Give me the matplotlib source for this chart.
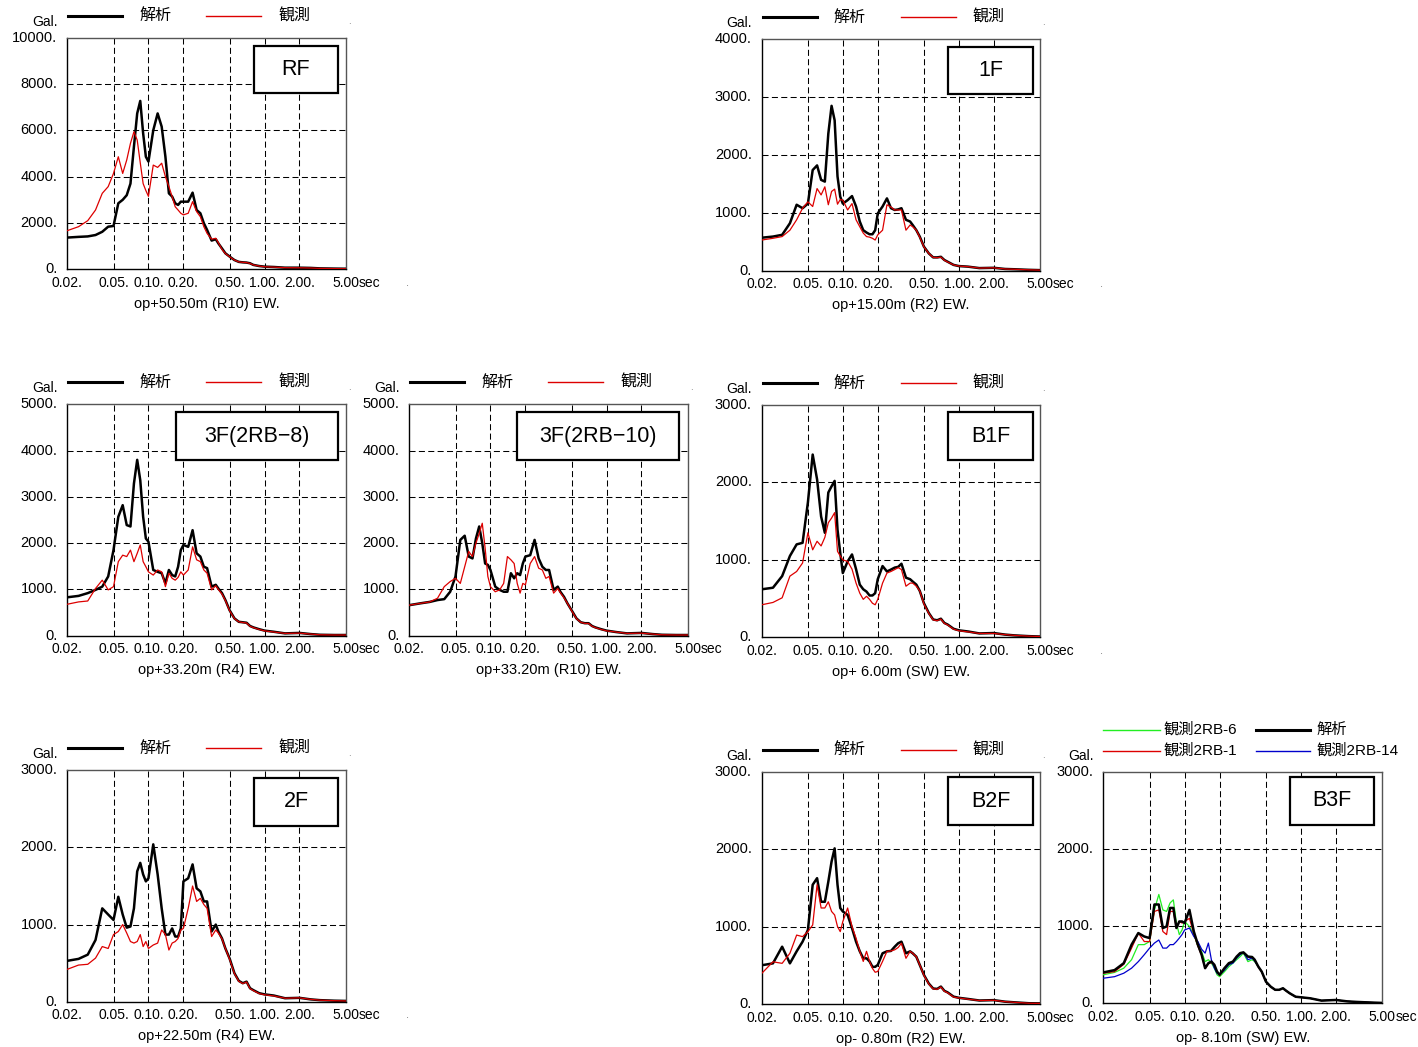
import matplotlib.pyplot as plt
import matplotlib.transforms as mtransforms
from matplotlib.patches import Rectangle
from matplotlib.lines import Line2D

plt.rcParams['font.family'] = ['Liberation Sans', 'Noto Sans CJK JP']

# 周期 (sec)
period = [0.02, 0.025, 0.03, 0.035, 0.04, 0.045, 0.05, 0.055, 0.06, 0.065, 0.07, 0.075,
          0.08, 0.085, 0.09, 0.095, 0.10, 0.11, 0.12, 0.13, 0.14, 0.15, 0.16, 0.17, 0.18,
          0.19, 0.20, 0.22, 0.24, 0.26, 0.28, 0.30, 0.32, 0.35, 0.38, 0.40, 0.43, 0.46,
          0.50, 0.55, 0.60, 0.65, 0.70, 0.75, 0.80, 0.90, 1.0, 1.2, 1.5, 2.0, 2.5, 3.0,
          4.0, 5.0]

# 加速度応答スペクトル (Gal)  calc=解析, obs=観測
rf_calc = [1370, 1400, 1420, 1480, 1620, 1840, 1870, 2850, 3000, 3200, 3700, 5300, 6730, 7270,
           5870, 4860, 4650, 6000, 6730, 6160, 4860, 3280, 3140, 2850, 2780, 2920, 2920, 2920,
           3310, 2560, 2420, 1990, 1700, 1240, 1300, 1120, 900, 690, 550, 400, 320, 300, 290,
           260, 190, 140, 115, 100, 70, 70, 60, 40, 30, 25]
rf_obs = [1670, 1840, 2100, 2560, 3280, 3570, 4140, 4860, 4140, 4720, 5440, 5940, 5580, 4600,
          3700, 3400, 3150, 4500, 4400, 4580, 4000, 3570, 3140, 2700, 2560, 2420, 2350, 2420,
          2920, 2490, 2270, 1840, 1550, 1300, 1340, 1150, 860, 680, 540, 400, 320, 300, 290,
          250, 190, 140, 110, 95, 70, 65, 55, 40, 30, 25]

f1_calc = [570, 590, 620, 820, 1140, 1080, 1160, 1740, 1820, 1570, 1540, 2370, 2850, 2600,
           1630, 1280, 1160, 1220, 1290, 1110, 850, 700, 660, 630, 630, 700, 990, 1110, 1250,
           1080, 1050, 1060, 1080, 880, 850, 790, 700, 590, 415, 300, 230, 230, 240, 185, 155,
           100, 80, 70, 45, 50, 30, 25, 15, 10]
f1_obs = [530, 560, 590, 700, 880, 1080, 1190, 1110, 1420, 1310, 1450, 1140, 1370, 1410, 1150,
          1230, 1220, 1050, 1160, 880, 760, 650, 590, 580, 560, 530, 620, 700, 1140, 1100, 1050,
          1050, 1050, 700, 790, 760, 700, 580, 410, 300, 230, 225, 235, 180, 150, 100, 80, 70,
          45, 50, 30, 25, 15, 10]

f3a_calc = [830, 860, 920, 990, 1060, 1280, 1850, 2570, 2820, 2390, 2360, 3290, 3800, 3360,
            2570, 2100, 2030, 1420, 1380, 1350, 1130, 1420, 1310, 1280, 1490, 1850, 1960, 1920,
            2280, 1780, 1710, 1490, 1460, 1060, 1100, 1020, 920, 770, 550, 375, 300, 290, 280,
            210, 180, 140, 110, 85, 50, 60, 35, 20, 15, 15]
f3a_obs = [680, 730, 750, 1020, 1200, 990, 1060, 1600, 1740, 1710, 1850, 1600, 1780, 1960, 1600,
           1490, 1380, 1310, 1420, 1380, 1060, 1350, 1240, 1200, 1260, 1380, 1310, 1420, 1920,
           1640, 1600, 1420, 1350, 990, 1080, 1000, 900, 760, 540, 370, 300, 285, 275, 205, 175,
           135, 105, 80, 50, 55, 35, 20, 15, 15]

f3b_calc = [660, 700, 730, 770, 790, 950, 1280, 2070, 2160, 1710, 1670, 2100, 2360, 2000, 1560,
            1530, 1420, 1060, 990, 950, 950, 1350, 1240, 1350, 1310, 1560, 1710, 1740, 2070,
            1670, 1490, 1420, 1420, 990, 1060, 950, 840, 700, 550, 375, 290, 270, 270, 210, 180,
            140, 110, 80, 50, 60, 35, 20, 15, 15]
f3b_obs = [660, 700, 730, 810, 1060, 1170, 1240, 1130, 1490, 1820, 1710, 2000, 2210, 2430, 1890,
           1280, 1060, 950, 990, 1130, 1710, 1640, 1560, 1130, 920, 1130, 1100, 1560, 1710, 1460,
           1420, 1240, 1280, 920, 1020, 930, 820, 700, 540, 370, 290, 265, 265, 205, 175, 135,
           105, 80, 50, 55, 35, 20, 15, 15]

b1_calc = [620, 640, 790, 1050, 1200, 1220, 1740, 2360, 2040, 1560, 1350, 1870, 1950, 2020, 1390,
           1090, 830, 980, 1070, 880, 680, 620, 590, 540, 540, 570, 750, 920, 850, 875, 900, 910,
           950, 770, 750, 720, 680, 600, 440, 315, 230, 220, 240, 185, 165, 110, 90, 75, 50, 55,
           35, 25, 15, 10]
b1_obs = [420, 450, 510, 790, 850, 960, 1350, 1130, 1240, 1180, 1290, 1480, 1540, 1610, 1110,
          1050, 1000, 980, 880, 700, 570, 490, 530, 490, 440, 420, 490, 700, 830, 850, 875, 900,
          875, 660, 700, 700, 660, 600, 430, 310, 225, 215, 235, 180, 160, 105, 85, 70, 50, 50,
          35, 25, 15, 10]

f2_calc = [530, 555, 610, 800, 1210, 1130, 1060, 1360, 1130, 960, 975, 1210, 1690, 1800, 1650,
           1560, 1600, 2040, 1650, 1210, 870, 870, 950, 845, 845, 950, 1560, 1600, 1780, 1470,
           1430, 1300, 1300, 910, 1000, 910, 820, 690, 560, 370, 270, 240, 260, 175, 150, 110,
           95, 80, 45, 50, 30, 20, 13, 10]
f2_obs = [420, 475, 485, 565, 715, 690, 870, 910, 1000, 890, 780, 760, 780, 870, 715, 780, 690,
          735, 760, 930, 870, 670, 760, 780, 820, 930, 950, 1210, 1500, 1300, 1340, 1260, 1210,
          845, 930, 890, 815, 690, 550, 365, 265, 235, 255, 170, 145, 105, 90, 75, 45, 50, 30,
          20, 13, 10]

b2_calc = [500, 525, 740, 525, 680, 805, 955, 1540, 1625, 1320, 1320, 1580, 1840, 2010, 1540,
           1240, 1195, 1150, 980, 805, 680, 590, 590, 550, 480, 480, 505, 655, 680, 685, 740, 785,
           805, 655, 680, 655, 610, 505, 375, 265, 200, 195, 225, 170, 150, 95, 80, 65, 45, 50,
           30, 22, 10, 8]
b2_obs = [395, 545, 525, 655, 890, 870, 935, 1020, 1540, 1240, 1240, 1320, 1195, 1150, 1000, 935,
          1065, 1240, 1000, 850, 680, 550, 680, 550, 460, 410, 420, 550, 680, 685, 700, 730, 785,
          590, 680, 655, 610, 505, 370, 260, 195, 190, 220, 165, 145, 90, 78, 62, 45, 48, 30, 22,
          10, 8]

b3_calc = [400, 430, 520, 760, 910, 865, 845, 1280, 1280, 975, 995, 1235, 1235, 975, 1060, 1060,
           1040, 1210, 930, 760, 630, 455, 520, 540, 500, 410, 370, 455, 520, 540, 605, 650, 660,
           605, 600, 565, 475, 410, 280, 215, 175, 175, 195, 160, 130, 85, 78, 65, 35, 43, 25,
           18, 10, 5]
b3_obs_rb1 = [390, 410, 505, 715, 910, 800, 800, 1190, 1210, 930, 890, 1190, 1190, 975, 1060,
              1040, 1060, 1100, 900, 740, 620, 450, 510, 530, 490, 400, 365, 450, 515, 535, 600,
              640, 650, 600, 590, 560, 470, 405, 278, 213, 173, 173, 193, 158, 128, 84, 77, 64,
              35, 42, 25, 18, 10, 5]
b3_obs_rb6 = [370, 400, 455, 565, 760, 760, 800, 1210, 1410, 1210, 1190, 1300, 1340, 1040, 890,
              950, 1060, 995, 890, 740, 670, 540, 565, 520, 455, 370, 345, 410, 475, 520, 565,
              605, 650, 540, 565, 540, 475, 410, 280, 215, 175, 175, 195, 160, 130, 85, 78, 65,
              35, 43, 25, 18, 10, 5]
b3_obs_rb14 = [325, 345, 390, 455, 540, 630, 715, 780, 820, 715, 715, 760, 760, 800, 845, 890,
               950, 975, 865, 800, 700, 650, 780, 560, 455, 390, 370, 430, 500, 520, 585, 630,
               660, 565, 585, 550, 475, 410, 280, 215, 175, 175, 195, 160, 130, 85, 78, 65, 35,
               43, 25, 18, 10, 5]

x_ticks = [0.02, 0.05, 0.10, 0.20, 0.50, 1.00, 2.00, 5.00]
x_ticklabels = ['0.02.', '0.05.', '0.10.', '0.20.', '0.50.', '1.00.', '2.00.', '5.00']

BLACK_LW = 1.8
RED = '#dd0000'
RED_LW = 0.9
TICK_FS = 10

W, H = 1418, 1047
fig = plt.figure(figsize=(W / 100, H / 100), dpi=100)


def shift(trans, dx=0, dy=0):
    # dx, dy はピクセル (dy は下向き正)
    return mtransforms.offset_copy(trans, fig=fig, x=dx, y=-dy, units='dots')


def fx(px):
    return px / W


def fy(py):
    return 1 - py / H


def panel(left, top, right, bottom, ymax, ystep, name, box, xlabel, end_dot):
    ax = fig.add_axes([fx(left), fy(bottom), (right - left) / W, (bottom - top) / H])
    ax.set_xscale('log')
    ax.set_xlim(0.02, 5.0)
    ax.set_ylim(0, ymax)
    ax.tick_params(which='both', length=0, labelbottom=False, labelleft=False)
    for s in ax.spines.values():
        s.set_linewidth(1.0)
        s.set_color('#555555')
    ax.spines['left'].set_color('black')
    ax.spines['bottom'].set_color('black')

    dash = (0, (5.8, 3.2))
    for t in x_ticks[1:-1]:
        ax.axvline(t, color='black', lw=0.75, ls=dash, zorder=1)
    for v in range(ystep, ymax, ystep):
        ax.axhline(v, color='black', lw=0.75, ls=dash, zorder=1)

    xt = ax.get_xaxis_transform()
    for t, lab in zip(x_ticks, x_ticklabels):
        ax.text(t, 0, lab, transform=shift(xt, 0, 13.5), ha='center', va='center',
                fontsize=TICK_FS)
    ax.text(5.0, 0, 'sec', transform=shift(xt, 13, 13.5), ha='left', va='center',
            fontsize=TICK_FS)
    if end_dot:
        ax.text(1.0, 0, '.', transform=shift(ax.transAxes, 60, 13.5), ha='left', va='center',
                fontsize=8, color='#777777')

    yt = ax.get_yaxis_transform()
    for v in range(0, ymax + 1, ystep):
        ax.text(0, v, f'{v}.', transform=shift(yt, -10, 0), ha='right', va='center',
                fontsize=10.5)

    ax.text(0.5, 0, xlabel, transform=shift(ax.transAxes, 0, 34.5), ha='center', va='center',
            fontsize=10.5)

    x0, x1, y0, y1 = box
    ax.add_patch(Rectangle((x0, y0), x1 - x0, y1 - y0, transform=ax.transAxes, fc='white',
                           ec='black', lw=1.6, zorder=5))
    ax.text((x0 + x1) / 2, (y0 + y1) / 2, name, transform=ax.transAxes, ha='center',
            va='center', fontsize=15.5, zorder=6)

    fig.text(fx(left - 10), fy(top - 16), 'Gal.', ha='right', va='center', fontsize=10)
    return ax


def legend_pair(left, top):
    y = fy(top - 22)
    fig.add_artist(Line2D([fx(left + 1), fx(left + 55)], [y, y], color='black', lw=2.2))
    fig.text(fx(left + 88), y, '解析', ha='center', va='center', fontsize=11.5)
    fig.add_artist(Line2D([fx(left + 139), fx(left + 194)], [y, y], color=RED, lw=1.0))
    fig.text(fx(left + 227), y, '観測', ha='center', va='center', fontsize=11.5)
    fig.text(fx(left + 282), fy(top - 17), '.', ha='center', va='center', fontsize=7,
             color='#777777')


panels = [
    (67.3, 37.7, 345.7, 269.3, 10000, 2000, 'RF', (0.671, 0.972, 0.761, 0.964),
     'op+50.50m (R10) EW.', True, rf_calc, rf_obs),
    (761.7, 39.3, 1040, 270.7, 4000, 1000, '1F', (0.669, 0.975, 0.762, 0.968),
     'op+15.00m (R2) EW.', True, f1_calc, f1_obs),
    (67.3, 404.3, 345.7, 635.7, 5000, 1000, '3F(2RB−8)', (0.390, 0.972, 0.759, 0.965),
     'op+33.20m (R4) EW.', False, f3a_calc, f3a_obs),
    (409.3, 404.3, 687.7, 635.7, 5000, 1000, '3F(2RB−10)', (0.386, 0.969, 0.759, 0.965),
     'op+33.20m (R10) EW.', False, f3b_calc, f3b_obs),
    (761.7, 405.0, 1040, 637.3, 3000, 1000, 'B1F', (0.669, 0.975, 0.763, 0.969),
     'op+ 6.00m (SW) EW.', True, b1_calc, b1_obs),
    (67.3, 770.3, 345.7, 1001.7, 3000, 1000, '2F', (0.671, 0.972, 0.761, 0.968),
     'op+22.50m (R4) EW.', True, f2_calc, f2_obs),
    (761.7, 771.7, 1040, 1004.0, 3000, 1000, 'B2F', (0.669, 0.975, 0.771, 0.976),
     'op- 0.80m (R2) EW.', False, b2_calc, b2_obs),
]

for left, top, right, bottom, ymax, ystep, name, box, xlabel, end_dot, calc, obs in panels:
    ax = panel(left, top, right, bottom, ymax, ystep, name, box, xlabel, end_dot)
    ax.plot(period, calc, color='black', lw=BLACK_LW, zorder=3)
    ax.plot(period, obs, color=RED, lw=RED_LW, zorder=4)
    legend_pair(left, top)

# B3F: 観測点3か所と解析
L, T = 1103.3, 771.7
ax = panel(L, T, 1382.3, 1003.3, 3000, 1000, 'B3F', (0.669, 0.971, 0.771, 0.976),
           'op- 8.10m (SW) EW.', False)
GREEN = '#22ee22'
BLUE = '#0000cc'
ax.plot(period, b3_obs_rb6, color=GREEN, lw=RED_LW, zorder=3)
ax.plot(period, b3_obs_rb1, color=RED, lw=RED_LW, zorder=3)
ax.plot(period, b3_obs_rb14, color=BLUE, lw=RED_LW, zorder=3)
ax.plot(period, b3_calc, color='black', lw=BLACK_LW, zorder=4)

rows = [
    (T - 42, GREEN, 1.0, '観測2RB-6', 'black', 2.2, '解析'),
    (T - 21, RED, 1.0, '観測2RB-1', BLUE, 1.0, '観測2RB-14'),
]
for py, c1, w1, t1, c2, w2, t2 in rows:
    y = fy(py)
    fig.add_artist(Line2D([fx(L), fx(L + 57)], [y, y], color=c1, lw=w1))
    fig.text(fx(L + 60), y, t1, ha='left', va='center', fontsize=11)
    fig.add_artist(Line2D([fx(L + 153), fx(L + 207)], [y, y], color=c2, lw=w2))
    fig.text(fx(L + 213), y, t2, ha='left', va='center', fontsize=11)

fig.savefig('out.png', dpi=100)
